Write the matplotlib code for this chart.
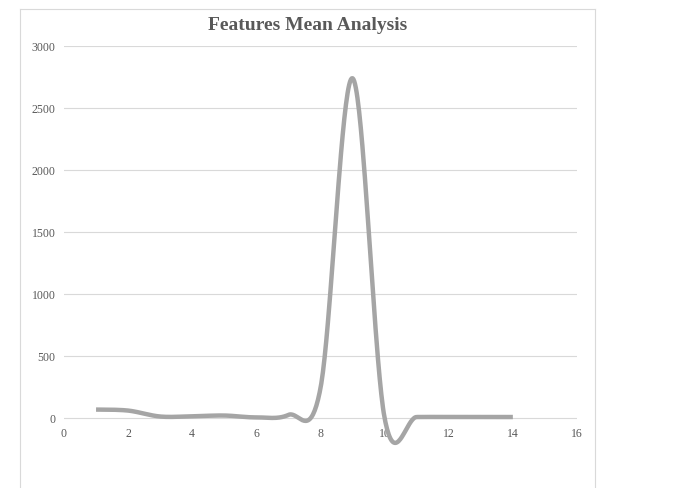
"""Features Mean Analysis: Excel-style smoothed scatter line of feature means."""
import numpy as np
import matplotlib
matplotlib.use("Agg")
import matplotlib.pyplot as plt
from matplotlib.lines import Line2D

FEATURE_IDX = [1, 2, 3, 4, 5, 6, 7, 8, 9, 10, 11, 12, 13, 14]
FEATURE_MEAN = [68, 60, 12, 14, 20, 5, 25, 240, 2740, 0, 8, 8, 8, 8]
X_TICKS = [0, 2, 4, 6, 8, 10, 12, 14, 16]
Y_TICKS = [0, 500, 1000, 1500, 2000, 2500, 3000]

INK = "#595959"
GRID = "#D9D9D9"
LINE = "#A5A5A5"


def smooth(xs, ys, n=40):
    """Catmull-Rom style Bezier smoothing, like Excel's 'smoothed line'."""
    p = np.column_stack([xs, ys]).astype(float)
    p = np.vstack([p[0], p, p[-1]])
    out = []
    for i in range(1, len(p) - 2):
        p0, p1, p2, p3 = p[i - 1], p[i], p[i + 1], p[i + 2]
        c1 = p1 + (p2 - p0) / 6
        c2 = p2 - (p3 - p1) / 6
        t = np.linspace(0, 1, n)[:, None]
        seg = ((1 - t) ** 3 * p1 + 3 * (1 - t) ** 2 * t * c1
               + 3 * (1 - t) * t ** 2 * c2 + t ** 3 * p2)
        out.append(seg if i == 1 else seg[1:])
    curve = np.vstack(out)
    return curve[:, 0], curve[:, 1]


fig = plt.figure(figsize=(6.85, 4.88), dpi=100)
ax = fig.add_axes([0.0934, 0.0672, 0.7489, 0.8385])

cx, cy = smooth(FEATURE_IDX, FEATURE_MEAN)
ax.plot(cx, cy, color=LINE, lw=3.2, solid_capstyle="butt", clip_on=False)

ax.set_xlim(0, 16)
ax.set_ylim(-300, 3000)
ax.set_xticks(X_TICKS)
ax.set_yticks(Y_TICKS)
ax.spines["bottom"].set_position(("data", 0))
for sp in ax.spines.values():
    sp.set_visible(False)
ax.tick_params(length=0, labelsize=8.5, labelcolor=INK)
ax.tick_params(axis="x", pad=7)
ax.tick_params(axis="y", pad=6)
for lab in ax.get_xticklabels() + ax.get_yticklabels():
    lab.set_family("Liberation Serif")
ax.grid(axis="y", color=GRID, lw=0.8)
ax.set_axisbelow(True)

fig.text(307.5 / 685, 1 - 25 / 488, "Features Mean Analysis", ha="center",
         va="center", fontsize=14, fontweight="bold", color=INK,
         family="Liberation Serif")

# chart area border (bottom edge runs off the image)
bx0, bx1, by0 = 20 / 685, 595 / 685, 1 - 9 / 488
for xs, ys in [([bx0, bx1], [by0, by0]), ([bx0, bx0], [by0, -0.1]),
               ([bx1, bx1], [by0, -0.1])]:
    fig.add_artist(Line2D(xs, ys, color=GRID, lw=0.8,
                          transform=fig.transFigure))

fig.savefig("out.png", dpi=100)
